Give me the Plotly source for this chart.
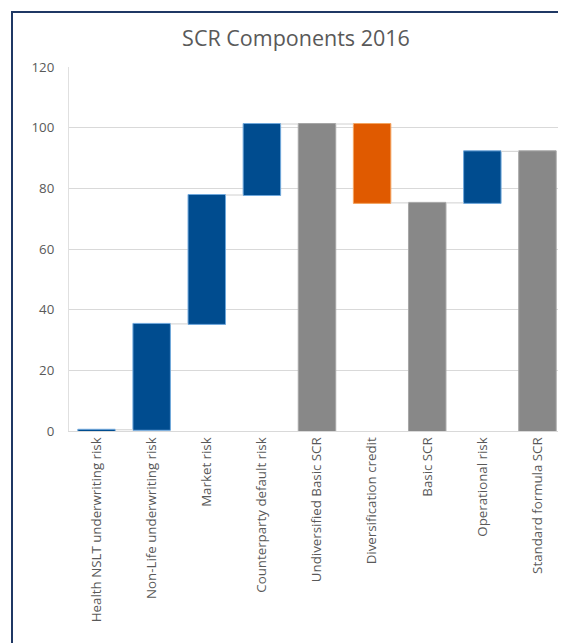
import plotly.graph_objects as go

categories = ["Health NSLT underwriting risk", "Non-Life underwriting risk", "Market risk",
              "Counterparty default risk", "Undiversified Basic SCR", "Diversification credit",
              "Basic SCR", "Operational risk", "Standard formula SCR"]
values = [0.4, 34.9, 42.5, 23.4, 0, -26.0, 0, 17.0, 0]
measures = ["relative", "relative", "relative", "relative", "total",
            "relative", "total", "relative", "total"]
y_ticks = [0, 20, 40, 60, 80, 100, 120]

# page body has an 8px margin; figure coordinates are offset by it
W, H = 558, 635
L, T, B_ = 61, 59, 423   # plot left, top, bottom in figure px
R = 557

fig = go.Figure(go.Waterfall(
    x=categories, y=values, measure=measures,
    increasing=dict(marker=dict(color="#004C8F", line=dict(color="#6FA8DC", width=1))),
    decreasing=dict(marker=dict(color="#E05A00", line=dict(color="#F4A460", width=1))),
    totals=dict(marker=dict(color="#888888", line=dict(color="#A6A6A6", width=1))),
    connector=dict(line=dict(color="#D0D0D0", width=1)),
    width=0.68,
))

pw = R - L
ph = B_ - T
fig.update_layout(
    width=W, height=H,
    margin=dict(l=L, r=W - R, t=T, b=H - B_, pad=0),
    paper_bgcolor="white", plot_bgcolor="white",
    font=dict(family="Open Sans", color="#595959", size=13),
    showlegend=False,
    title=dict(text="SCR Components 2016", xref="container", x=288 / W, xanchor="center",
               yref="container", y=1 - 30 / H, yanchor="middle",
               font=dict(size=21.5, color="#595959", family="Open Sans")),
    xaxis=dict(tickangle=-90, showgrid=False, showline=True, linecolor="#D9D9D9",
               tickfont=dict(size=13.3, color="#595959"), ticks=""),
    yaxis=dict(range=[0, 120], tickvals=y_ticks, showgrid=True, gridcolor="#D9D9D9",
               showline=True, linecolor="#E0E0E0", zeroline=False,
               tickfont=dict(size=13.3, color="#595959"), ticklabelstandoff=11),
    shapes=[dict(type="rect", xref="paper", yref="paper",
                 x0=(4 - L) / pw, x1=1.2, y0=-0.8, y1=(B_ - 4) / ph,
                 line=dict(color="#1F3864", width=2), fillcolor="rgba(0,0,0,0)")],
)

fig.write_html("out.html")
